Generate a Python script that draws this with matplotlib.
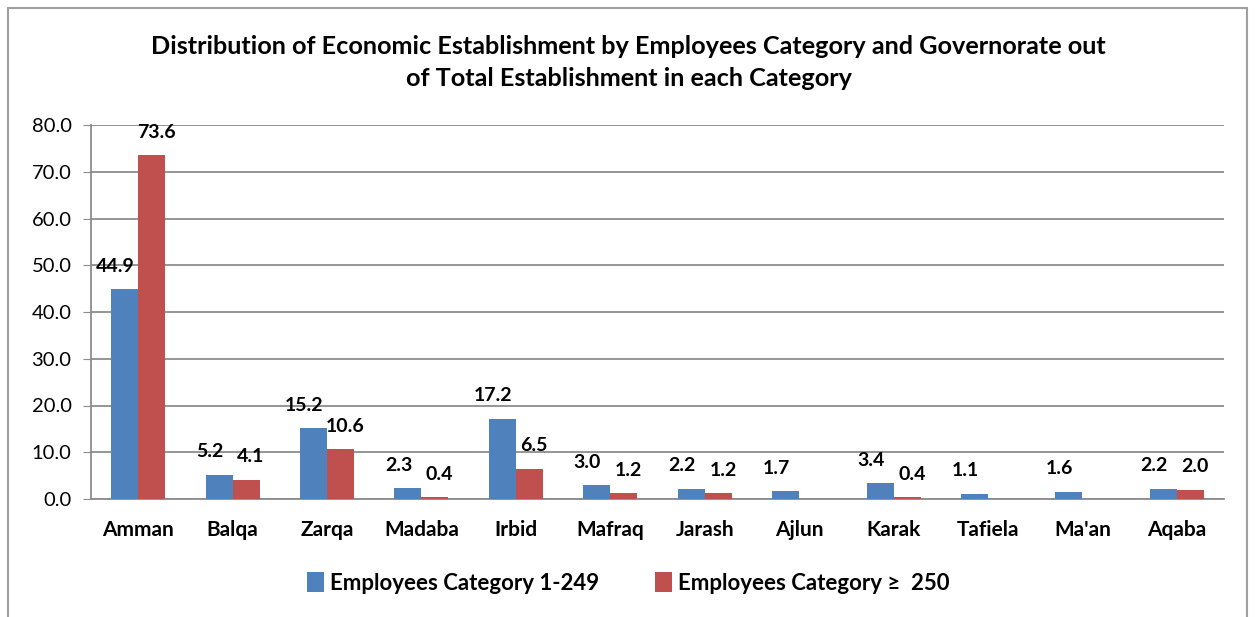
import numpy as np
import matplotlib.pyplot as plt
from matplotlib.patches import Rectangle

governorates = ["Amman", "Balqa", "Zarqa", "Madaba", "Irbid", "Mafraq",
                "Jarash", "Ajlun", "Karak", "Tafiela", "Ma'an", "Aqaba"]
small_est = [44.9, 5.2, 15.2, 2.3, 17.2, 3.0, 2.2, 1.7, 3.4, 1.1, 1.6, 2.2]
large_est = [73.6, 4.1, 10.6, 0.4, 6.5, 1.2, 1.2, np.nan, 0.4, np.nan, np.nan, 2.0]
yticks = [0, 10, 20, 30, 40, 50, 60, 70, 80]

blue = "#4F81BD"
red = "#C0504D"
grid_col = "#8C8C8C"
font = "Lato"

fig = plt.figure(figsize=(12.57, 6.17), dpi=100)
fig.patches.append(Rectangle((8/1257, -0.1), (1247-8)/1257, 1.1 - 8/617,
                             transform=fig.transFigure, fill=False,
                             edgecolor="#A0A0A0", linewidth=1.5))
ax = fig.add_axes([91/1257, 118/617, (1224-91)/1257, (499-125)/617])

x = np.arange(len(governorates))
w = 0.286
b1 = ax.bar(x - w/2, small_est, w, color=blue, label="Employees Category 1-249", zorder=3)
b2 = ax.bar(x + w/2, large_est, w, color=red, label="Employees Category \u2265  250", zorder=3)

# value labels sit ~23px above each bar, nudged outward a little
for xi, v in zip(x, small_est):
    ax.annotate(f"{v:.1f}", (xi - w/2 - 0.1, v), xytext=(0, 16.5), textcoords="offset points",
                ha="center", va="center", fontsize=14, fontweight="bold", family=font)
for xi, v in zip(x, large_est):
    if np.isnan(v):
        continue
    ax.annotate(f"{v:.1f}", (xi + w/2 + 0.05, v), xytext=(0, 16.5), textcoords="offset points",
                ha="center", va="center", fontsize=14, fontweight="bold", family=font)

ax.set_xlim(-0.5, len(governorates) - 0.5)
ax.set_ylim(0, 80)
ax.set_yticks(yticks)
ax.set_yticklabels([f"{t:.1f}" for t in yticks], fontsize=14.5, family=font)
ax.set_xticks(x)
ax.set_xticklabels(governorates, fontsize=15, fontweight="bold", family=font)
ax.tick_params(axis="y", length=6, color=grid_col, pad=8, direction="out")
ax.tick_params(axis="x", length=0, pad=15)
ax.yaxis.grid(True, color=grid_col, linewidth=1.3, zorder=0)
for s in ["top", "right"]:
    ax.spines[s].set_visible(False)
for s in ["left", "bottom"]:
    ax.spines[s].set_color(grid_col)
    ax.spines[s].set_linewidth(1.3)

fig.text(0.5, 0.925, "Distribution of Economic Establishment by Employees Category and Governorate out",
         ha="center", va="center", fontsize=18.2, fontweight="bold", family=font)
fig.text(0.5, 0.872, "of Total Establishment in each Category",
         ha="center", va="center", fontsize=18.2, fontweight="bold", family=font)

leg = fig.legend(handles=[b1, b2], loc="center", bbox_to_anchor=(0.5, 1 - 583/617),
                 ncol=2, frameon=False, prop={"family": font, "weight": "bold", "size": 16},
                 handlelength=0.75, handleheight=1.0, handletextpad=0.3, columnspacing=2.5)

fig.savefig("out.png", dpi=100)
